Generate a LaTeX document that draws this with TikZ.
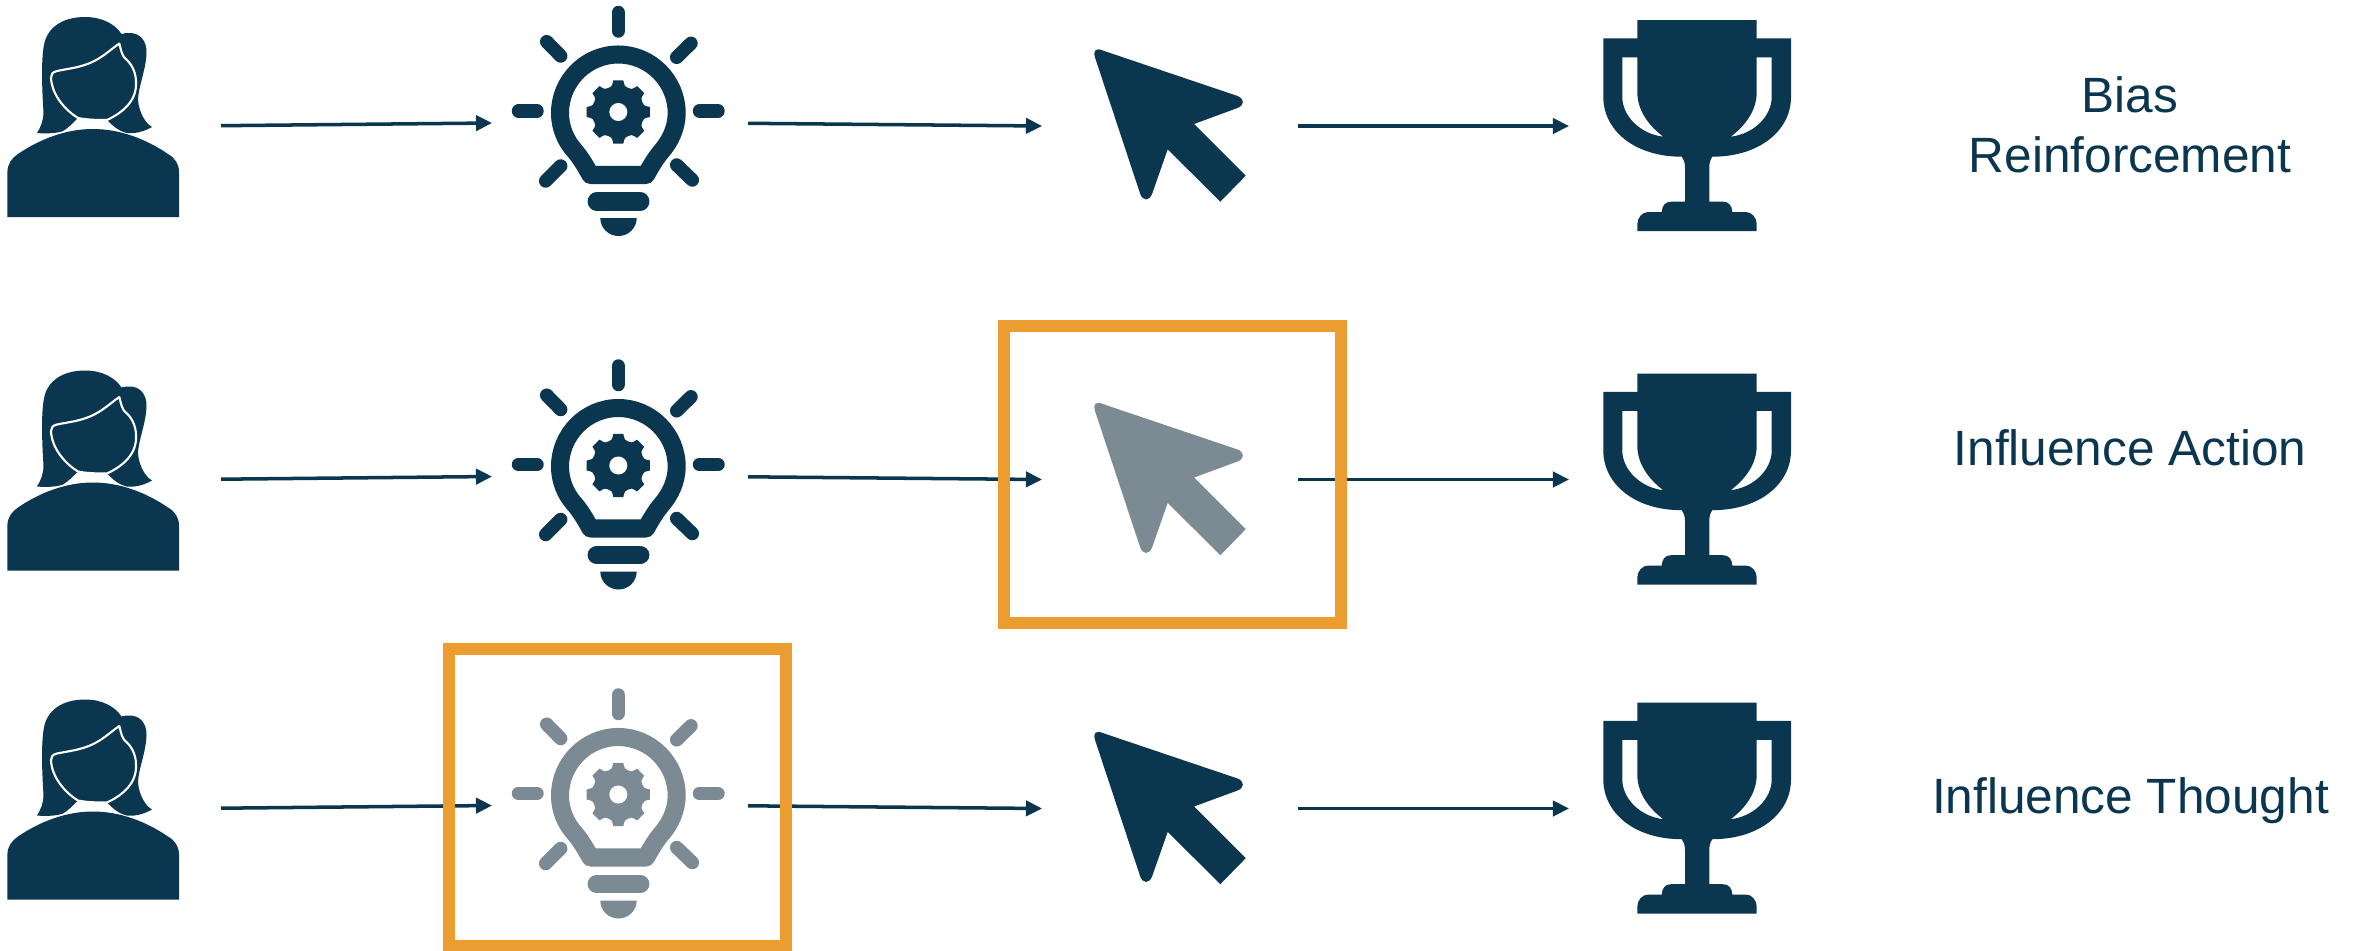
\documentclass[tikz,border=0pt]{standalone}
\usepackage{fontspec}
\setmainfont{Liberation Sans}
\usetikzlibrary{arrows.meta}
\definecolor{icondark}{HTML}{0A374F}
\definecolor{icongrey}{HTML}{7B8A93}
\definecolor{boxorange}{HTML}{EB9D30}
\tikzset{
  flowarrow/.style={draw=icondark,line width=3pt,-{Triangle[length=13.7pt,width=13pt]}},
  highlightbox/.style={draw=boxorange,line width=10.24pt},
  ray/.style={line width=11.5pt,line cap=round},
  caption/.style={text=icondark,font=\fontsize{42.3pt}{51.2pt}\selectfont,align=center},
  pics/person/.style={code={
    \fill[#1] (7.4,217) -- (7.4,172) .. controls (7.4,164) and (12,158) .. (18,154)
      .. controls (40,139) and (66,129) .. (93,129) .. controls (120,129) and (146,139) .. (168,154)
      .. controls (175,158) and (179,164) .. (179,172) -- (179,217) -- cycle;
    \fill[#1] (85,17) .. controls (62,17) and (47,28) .. (44,45)
      .. controls (41,60) and (42,90) .. (43.5,112) .. controls (43.5,120) and (41,127) .. (37,133)
      .. controls (48,134) and (58,133) .. (63,131) .. controls (68,128) and (73,123) .. (78,118)
      .. controls (88,120) and (98,120) .. (107,120) .. controls (112,125) and (118,131) .. (127,133)
      .. controls (136,134) and (145,131) .. (152,127) .. controls (145,123) and (139,112) .. (138,100)
      .. controls (138,88) and (146,70) .. (146.5,53) .. controls (147,40) and (139,33) .. (130,33)
      .. controls (127,33) and (124,33) .. (121.5,34) .. controls (115,24) and (102,17) .. (85,17) -- cycle;
    \draw[white,line width=1.8pt,line join=round] (119.3,43.5) .. controls (110,50) and (102,58) .. (90,63)
      .. controls (78,68) and (66,69) .. (57,71) .. controls (52,72) and (51,75) .. (51,78)
      .. controls (52,95) and (65,110) .. (78,118) .. controls (88,120) and (98,120) .. (107,120)
      .. controls (124,112) and (137,100) .. (136,82) .. controls (136,74) and (133,66) .. (127,60)
      .. controls (122,57) and (121,50) .. (119.3,43.5) -- cycle;
  }},
  pics/bulb/.style={code={
    \draw[#1,line width=15.4pt,line join=round] (590.5,175) .. controls (586,167) and (581,158) .. (574,150)
      .. controls (566,141) and (560,128) .. (560,113) .. controls (560,81) and (586,54.5) .. (618.3,54.5)
      .. controls (650.5,54.5) and (676.7,81) .. (676.7,113) .. controls (676.7,128) and (670,141) .. (662.5,150)
      .. controls (655.5,158) and (650.5,167) .. (646,175) -- cycle;
    \draw[#1,ray] (618.3,12.5) -- (618.3,31);
    \draw[#1,ray] (518.5,111) -- (537,111);
    \draw[#1,ray] (699.5,111) -- (718,111);
    \draw[#1,ray] (546.7,41.7) -- (560.7,56);
    \draw[#1,ray] (691,43.3) -- (676.7,57.3);
    \draw[#1,ray] (560.7,166) -- (545.7,181);
    \draw[#1,ray] (676.7,165) -- (692.3,180);
    \draw[#1,line width=15.6pt,line cap=round] (596.7,201.5) -- (640.3,201.5);
    \fill[#1] (600.3,218) -- (636.7,218) .. controls (636.7,228) and (628.5,236) .. (618.5,236)
      .. controls (608.5,236) and (600.3,228) .. (600.3,218) -- cycle;
    \begin{scope}[shift={(618.3,112)}]
      \fill[#1] (-9:32) \foreach \a in {0,45,...,315} {
        -- ({\a-9}:32) -- ({\a+9}:32) .. controls ({\a+13}:26.5) and ({\a+17}:25.5) .. ({\a+22.5}:26)
        .. controls ({\a+28}:25.5) and ({\a+32}:26.5) .. ({\a+36}:32)} -- cycle;
      \fill[white] (0,0) circle [radius=9];
    \end{scope}
  }},
  pics/cursor/.style={code={
    \fill[#1] (1103.3,50.7) -- (1236.7,95.7) .. controls (1245,98.5) and (1245,105.5) .. (1236.7,108.3)
      -- (1194,124) -- (1245.7,175.7) -- (1220.3,201.7) -- (1167.7,149.3) -- (1152.3,193.3)
      .. controls (1149.5,201.5) and (1142.5,201.5) .. (1140,193.3) -- (1095.3,58.3)
      .. controls (1092.5,50) and (1096,47.5) .. (1103.3,50.7) -- cycle;
  }},
  pics/trophy/.style={code={
    \fill[#1,even odd rule] (1637.3,20) -- (1756.7,20) -- (1756.7,38.3) -- (1791,38.3) -- (1791,97)
      .. controls (1791,130) and (1760,156.7) .. (1712.3,156.7) .. controls (1710,160) and (1709.3,163) .. (1709.3,168)
      -- (1709.3,201.7) -- (1723,201.7) .. controls (1729,201.7) and (1732,206) .. (1732.3,212) -- (1745.7,212)
      .. controls (1752,212) and (1756.7,218) .. (1756.7,224) -- (1756.7,231) -- (1637.3,231) -- (1637.3,224)
      .. controls (1637.3,218) and (1642,212) .. (1648.3,212) -- (1661.7,212) .. controls (1662,206) and (1665,201.7) .. (1671,201.7)
      -- (1685,201.7) -- (1685,168) .. controls (1685,163) and (1684,160) .. (1681.7,156.7)
      .. controls (1634,156.7) and (1603.3,130) .. (1603.3,97) -- (1603.3,38.3) -- (1637.3,38.3) -- cycle
      (1622.3,57.3) -- (1637.3,57.3) -- (1637.3,92) .. controls (1637.3,110) and (1648,125) .. (1663.3,136.7)
      .. controls (1640,134) and (1622.3,116) .. (1622.3,97) -- cycle
      (1771.7,57.3) -- (1756.7,57.3) -- (1756.7,92) .. controls (1756.7,110) and (1746,125) .. (1730.7,136.7)
      .. controls (1754,134) and (1771.7,116) .. (1771.7,97) -- cycle;
  }}
}
\begin{document}
\begin{tikzpicture}[x=0.03cm,y=-0.03cm]
\useasboundingbox (0,0) rectangle (2361,950);
\fill[white] (0,0) rectangle (2361,950);
\clip (0,0) rectangle (2361,950);
\foreach \r/\dy/\bc/\cc in {1/0/icondark/icondark,2/353.5/icondark/icongrey,3/682.5/icongrey/icondark}{
  \pic at (0,\dy) {person=icondark};
  \pic at (0,\dy) {bulb=\bc};
  \pic at (0,\dy) {cursor=\cc};
  \pic at (0,\dy) {trophy=icondark};
  \coordinate (p\r) at (221,125.7+\dy);
  \coordinate (bi\r) at (492,123+\dy);
  \coordinate (bo\r) at (748,123.3+\dy);
  \coordinate (ci\r) at (1042,126+\dy);
  \coordinate (co\r) at (1298,126+\dy);
  \coordinate (t\r) at (1569,126+\dy);
  \draw[flowarrow] (p\r) -- (bi\r);
  \draw[flowarrow] (bo\r) -- (ci\r);
  \draw[flowarrow] (co\r) -- (t\r);
}
\draw[highlightbox] (1004.3,326) rectangle (1340.7,623.3);
\draw[highlightbox] (449.3,648.8) rectangle (785.7,946);
\node[caption,anchor=center] (lbias) at (2130,125) {Bias\\Reinforcement};
\node[caption,anchor=base] (laction) at (2130,465) {Influence Action};
\node[caption,anchor=base] (lthought) at (2130.5,813.3) {Influence Thought};
\end{tikzpicture}
\end{document}
